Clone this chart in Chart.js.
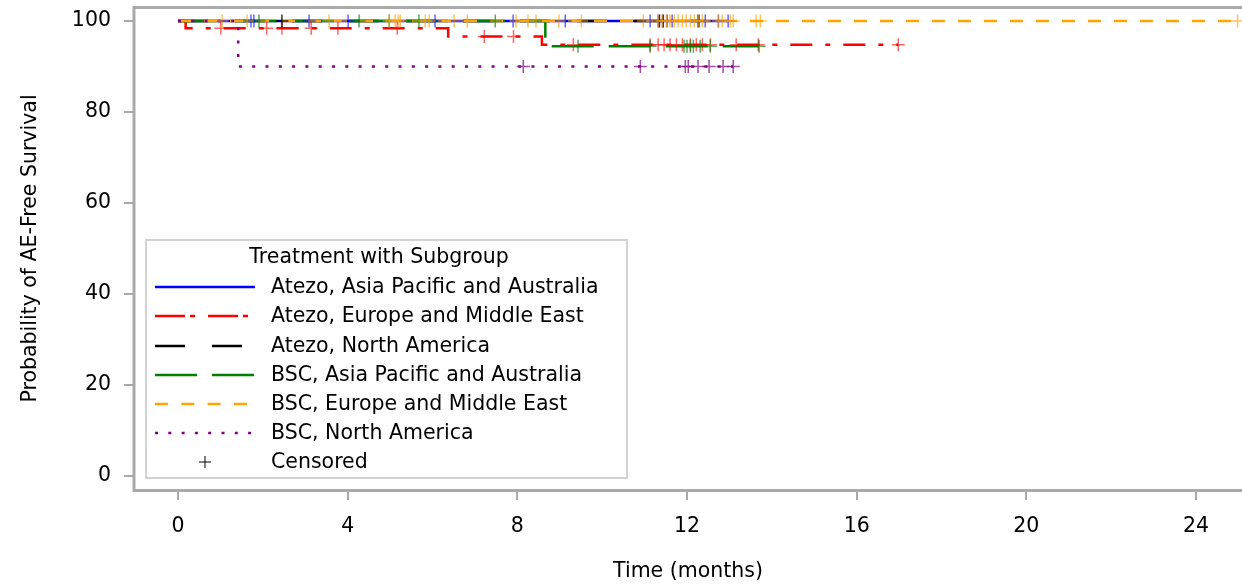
<!DOCTYPE html>
<html>
<head>
<meta charset="utf-8">
<script src="https://cdn.jsdelivr.net/npm/chart.js@4.4.1/dist/chart.umd.min.js"></script>
<style>
  html, body { margin: 0; padding: 0; background: #fff; }
  #wrap { width: 1242px; height: 584px; }
</style>
</head>
<body>
<div id="wrap"><canvas id="km" width="1242" height="584"></canvas></div>
<script>
const xTicks = [0, 4, 8, 12, 16, 20, 24];
const yTicks = [0, 20, 40, 60, 80, 100];

const groupNames = [
    'Atezo, Asia Pacific and Australia',
    'Atezo, Europe and Middle East',
    'Atezo, North America',
    'BSC, Asia Pacific and Australia',
    'BSC, Europe and Middle East',
    'BSC, North America'
];

// event times (months) and survival (%) just after each event
const atezoApTimes = [];
const atezoApSurv = [];
const atezoApLast = 12.97;
const atezoApCensor = [1.72, 1.79, 3.09, 4.01, 6.06, 7.9, 9.13, 11.13, 11.32, 11.42, 11.53, 11.65, 12.29, 12.43, 12.74, 12.97];

const atezoEuTimes = [0.18, 6.37, 8.58];
const atezoEuSurv = [98.4, 96.6, 94.8];
const atezoEuLast = 16.98;
const atezoEuCensor = [1.01, 2.09, 2.45, 3.14, 3.77, 5.17, 7.22, 7.91, 9.32, 11.13, 11.32, 11.46, 11.6, 11.75, 11.89, 12.08, 12.22, 12.36, 12.55, 13.16, 13.68, 16.98];

const atezoNaTimes = [];
const atezoNaSurv = [];
const atezoNaLast = 12.26;
const atezoNaCensor = [2.45, 11.35, 11.44, 12.26];

const bscApTimes = [8.66];
const bscApSurv = [94.44];
const bscApLast = 13.7;
const bscApCensor = [1.91, 4.27, 4.98, 5.68, 7.48, 9.43, 11.13, 11.93, 12.0, 12.08, 12.15, 12.31, 12.55, 13.7];

const bscEuTimes = [];
const bscEuSurv = [];
const bscEuLast = 24.98;
const bscEuCensor = [1.04, 1.63, 3.56, 4.98, 5.12, 5.19, 5.24, 5.83, 5.92, 6.51, 6.82, 7.97, 8.25, 8.44, 8.98, 9.51, 10.97,
    11.32, 11.42, 11.51, 11.6, 11.7, 11.79, 11.89, 11.98, 12.08, 12.17, 12.26, 12.36, 12.74, 12.83, 13.02, 13.09, 13.63, 13.73, 24.98];

const bscNaTimes = [1.42];
const bscNaSurv = [90];
const bscNaLast = 13.09;
const bscNaCensor = [8.14, 10.9, 11.96, 12.03, 12.26, 12.52, 12.85, 13.09];

const colors = ['#0000ff', '#ff0000', '#000000', '#008000', '#ffa500', '#800080'];
const censorColors = ['rgba(0,0,255,0.6)', 'rgba(255,0,0,0.6)', 'rgba(0,0,0,0.8)', 'rgba(0,128,0,0.65)', 'rgba(255,165,0,0.65)', 'rgba(128,0,128,0.7)'];
const dashes = [[], [22, 13, 5, 13], [30, 27], [42, 15], [13, 13], [3, 10.3]];
const legendDashes = [[], [30, 5, 5, 13], [30, 27], [42, 15], [13, 13.3], [3, 10.3]];

const groups = [
    [atezoApTimes, atezoApSurv, atezoApLast, atezoApCensor],
    [atezoEuTimes, atezoEuSurv, atezoEuLast, atezoEuCensor],
    [atezoNaTimes, atezoNaSurv, atezoNaLast, atezoNaCensor],
    [bscApTimes, bscApSurv, bscApLast, bscApCensor],
    [bscEuTimes, bscEuSurv, bscEuLast, bscEuCensor],
    [bscNaTimes, bscNaSurv, bscNaLast, bscNaCensor]
];

const survAt = (times, surv, t) => {
    let s = 100;
    times.forEach((et, i) => { if (et <= t) s = surv[i]; });
    return s;
};

const datasets = [];
groups.forEach(([times, surv, last, cens], i) => {
    const pts = [{ x: 0, y: 100 }];
    times.forEach((t, j) => pts.push({ x: t, y: surv[j] }));
    pts.push({ x: last, y: surv.length ? surv[surv.length - 1] : 100 });
    datasets.push({
        label: groupNames[i],
        data: pts,
        showLine: true,
        stepped: true,
        borderColor: colors[i],
        borderWidth: 2.5,
        borderDash: dashes[i],
        borderCapStyle: 'butt',
        pointRadius: 0,
        fill: false,
        order: 20 - i
    });
    datasets.push({
        label: groupNames[i] + ' censored',
        data: cens.map(t => ({ x: t, y: survAt(times, surv, t) })),
        showLine: false,
        pointStyle: 'cross',
        pointRadius: 6.5,
        borderWidth: 1.5,
        borderColor: censorColors[i],
        order: 10 - i
    });
});

const FONT = 'DejaVu Sans';
const FSIZE = 20.5;

const frameAndLegend = {
    id: 'frameAndLegend',
    afterDraw(chart) {
        const { ctx, chartArea: a } = chart;
        ctx.save();
        ctx.strokeStyle = '#aaaaaa';
        ctx.lineWidth = 3;
        ctx.strokeRect(a.left, a.top + 0.5, a.right - a.left + 10, a.bottom - a.top);

        // legend box
        const bx = 146, by = 240, bw = 481, bh = 238;
        ctx.fillStyle = '#ffffff';
        ctx.fillRect(bx, by, bw, bh);
        ctx.strokeStyle = '#d3d3d3';
        ctx.lineWidth = 2;
        ctx.strokeRect(bx, by, bw, bh);

        ctx.fillStyle = '#000';
        ctx.font = `${FSIZE}px "${FONT}"`;
        ctx.textBaseline = 'middle';
        ctx.textAlign = 'center';
        ctx.fillText('Treatment with Subgroup', 379, 258);
        ctx.textAlign = 'left';
        const rowY = [287, 316, 346, 375, 404, 433];
        groupNames.forEach((name, i) => {
            ctx.beginPath();
            ctx.strokeStyle = colors[i];
            ctx.lineWidth = 2.5;
            ctx.setLineDash(legendDashes[i]);
            ctx.moveTo(155, rowY[i]);
            ctx.lineTo(255, rowY[i]);
            ctx.stroke();
            ctx.fillText(name, 271, rowY[i] + 1);
        });
        ctx.setLineDash([]);
        ctx.strokeStyle = '#000';
        ctx.lineWidth = 1;
        ctx.beginPath();
        ctx.moveTo(199, 462); ctx.lineTo(211, 462);
        ctx.moveTo(205, 456); ctx.lineTo(205, 468);
        ctx.stroke();
        ctx.fillText('Censored', 271, 463);
        ctx.restore();
    }
};

new Chart(document.getElementById('km'), {
    type: 'scatter',
    data: { datasets },
    options: {
        responsive: false,
        animation: false,
        devicePixelRatio: 1,
        layout: { autoPadding: false, padding: { top: 7, right: 0, left: 0, bottom: 0 } },
        plugins: { legend: { display: false }, tooltip: { enabled: false } },
        scales: {
            x: {
                type: 'linear',
                min: -1.037,
                max: 25.084,
                afterFit: s => { s.height = 94; s.paddingLeft = 0; s.paddingRight = 0; },
                afterBuildTicks: s => { s.ticks = xTicks.map(v => ({ value: v })); },
                border: { display: false },
                grid: { drawOnChartArea: false, drawTicks: true, tickLength: 10, tickColor: '#aaaaaa', lineWidth: 2 },
                ticks: { color: '#000', padding: 14, font: { family: FONT, size: FSIZE }, maxRotation: 0 },
                title: { display: true, text: 'Time (months)', color: '#000', font: { family: FONT, size: FSIZE }, padding: { top: 0, bottom: 0 } }
            },
            y: {
                type: 'linear',
                min: -3.08,
                max: 103.08,
                afterFit: s => { s.width = 134; s.paddingTop = 0; s.paddingBottom = 0; },
                afterBuildTicks: s => { s.ticks = yTicks.map(v => ({ value: v })); },
                border: { display: false },
                grid: { drawOnChartArea: false, drawTicks: true, tickLength: 10, tickColor: '#aaaaaa', lineWidth: 2 },
                ticks: { color: '#000', padding: 13, font: { family: FONT, size: FSIZE } },
                title: { display: true, text: 'Probability of AE-Free Survival', color: '#000', font: { family: FONT, size: FSIZE }, padding: { top: 18, bottom: 0 } }
            }
        }
    },
    plugins: [frameAndLegend]
});
</script>
</body>
</html>
